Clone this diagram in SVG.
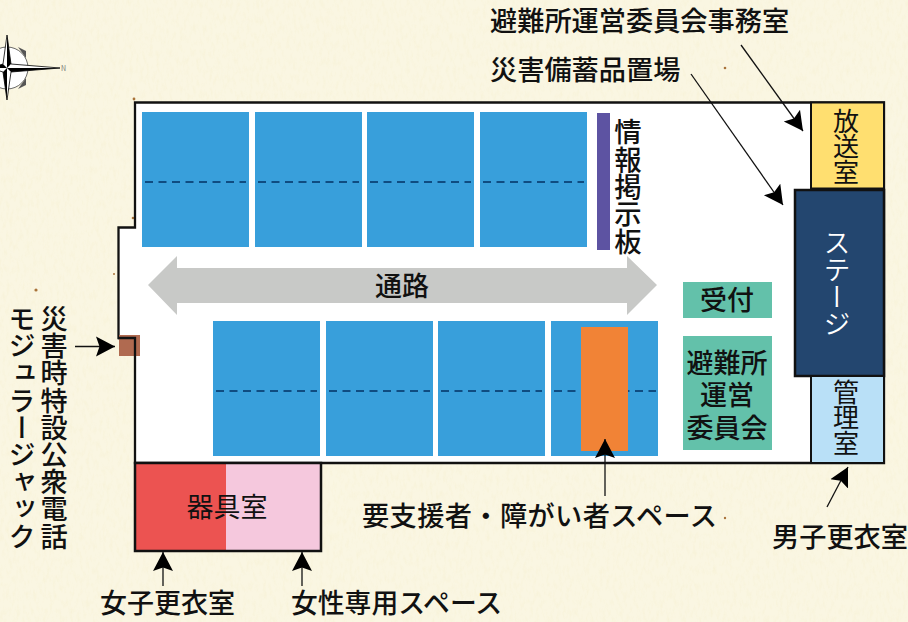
<svg xmlns="http://www.w3.org/2000/svg" width="908" height="622" viewBox="0 0 908 622">
<style>
text{font-family:"Noto Sans CJK JP","Noto Sans",sans-serif;fill:#111}
.lb{font-size:27.2px;font-weight:500}
.rm{font-size:27px;font-weight:500;text-anchor:middle}
.v{writing-mode:vertical-rl}
.thin{font-size:26px;font-weight:400;letter-spacing:-.6px}
.bl{fill:#389fdb}
.ds{stroke:#0f4c81;stroke-width:2;stroke-dasharray:8 5.500;fill:none}
.ln{stroke:#111;stroke-width:1.300;fill:none}
.tg{fill:#63c1aa}
.sp{fill:#a9733a}
</style>
<defs>
<marker id="ah" viewBox="0 0 20 22" refX="19" refY="11" markerWidth="20" markerHeight="22" markerUnits="userSpaceOnUse" orient="auto"><path d="M19 11L0 1L3.500 11L0 21Z" fill="#000"/></marker>
<filter id="paper" x="0" y="0" width="100%" height="100%"><feTurbulence type="fractalNoise" baseFrequency="0.3 0.12" numOctaves="4" seed="7"/><feColorMatrix values="0 0 0 0 0.9 0 0 0 0 0.84 0 0 0 0 0.58 1.800 0 0 0 -0.8"/></filter>
</defs>
<rect width="908" height="622" fill="#faf6e2"/>
<rect width="908" height="622" filter="url(#paper)" opacity=".4"/>
<g id="specks"><circle class="sp" cx="725" cy="68" r="1.300"/><circle class="sp" cx="36" cy="290" r="1.600"/><circle class="sp" cx="114" cy="274" r="1"/><circle class="sp" cx="134" cy="99" r="1.400"/><circle class="sp" cx="133" cy="218" r="1.300"/><circle class="sp" cx="725" cy="518" r="1.200"/></g>
<g id="compass">
<path d="M18 47L26 51L26 58ZM18 89L26 85L26 78Z" fill="#555"/>
<circle cx="7" cy="68" r="21" fill="#fff" stroke="#444" stroke-width=".8"/>
<path d="M7 35L11 64L60 68L11 72L7 100L3 72L-10 68L3 64Z" fill="#fff" stroke="#000" stroke-width=".8"/>
<path d="M7 35L7 68L11 64ZM7 100L7 68L3 72ZM60 68L7 68L11 72ZM-10 68L7 68L3 64Z" fill="#000"/>
<text x="61" y="71" style="font-size:7px;fill:#777">N</text>
</g>
<g id="floor">
<path d="M135 102.500H884V463H135V338H118.500V227.500H135Z" fill="#fff" stroke="#111" stroke-width="2.300"/>
</g>
<g id="mats-top">
<rect class="bl" x="142" y="112" width="107" height="135"/><rect class="bl" x="255" y="112" width="107" height="135"/><rect class="bl" x="367" y="112" width="107" height="135"/><rect class="bl" x="480" y="112" width="107" height="135"/>
<path class="ds" d="M145 182H246M258 182H359M370 182H471M483 182H584"/>
</g>
<g id="mats-bottom">
<rect class="bl" x="213" y="321" width="107" height="135"/><rect class="bl" x="326" y="321" width="107" height="135"/><rect class="bl" x="438" y="321" width="107" height="135"/><rect class="bl" x="551" y="321" width="107" height="135"/>
<path class="ds" d="M216 391H317M329 391H430M441 391H542M554 391H656"/>
</g>
<g id="board"><rect x="597" y="113" width="13" height="137" fill="#5d53a2"/>
<text class="v" x="628" y="118" style="font-size:27.400px;font-weight:500">情報掲示板</text></g>
<g id="passage"><path d="M148 285L177 256V268H627V256L657 285L627 315V303H177V315Z" fill="#c8c9c7"/>
<text class="rm" x="402" y="296">通路</text></g>
<g id="reception"><rect class="tg" x="683" y="282" width="89" height="36"/><text class="rm" x="727" y="310">受付</text></g>
<g id="committee"><rect class="tg" x="683" y="336" width="89" height="114"/>
<text class="rm"><tspan x="727" y="373">避難所</tspan><tspan x="727" y="405">運営</tspan><tspan x="727" y="438">委員会</tspan></text></g>
<g id="support"><rect x="581" y="327" width="47" height="124" fill="#f18336"/></g>
<g id="broadcast"><rect x="811" y="102.500" width="73" height="86" fill="#ffdf70" stroke="#111" stroke-width="2"/>
<text class="thin v" x="846" y="108">放送室</text></g>
<g id="stage"><rect x="795" y="190" width="89" height="186" fill="#23466f" stroke="#111" stroke-width="2.500"/>
<text class="v" x="837" y="229" style="font-size:27px;fill:#fff;font-weight:350">ステージ</text></g>
<g id="office"><rect x="811" y="376" width="73" height="87" fill="#b9e0f7" stroke="#111" stroke-width="2"/>
<text class="thin v" x="846" y="379">管理室</text></g>
<g id="storage"><rect x="135" y="463" width="92" height="88" fill="#ec5351"/><rect x="226" y="463" width="95" height="88" fill="#f5c8dd"/>
<rect x="135" y="463" width="186" height="88" fill="none" stroke="#111" stroke-width="2.500"/>
<text class="rm" x="227" y="517" style="font-weight:400">器具室</text></g>
<g id="jack"><rect x="119" y="335" width="21" height="21" fill="#b06a50"/><path d="M118 338H135V356" fill="none" stroke="#111" stroke-width="2.300"/></g>
<g id="connectors">
<path class="ln" d="M741 45L803 131" marker-end="url(#ah)"/>
<path class="ln" d="M691 74L783 205" marker-end="url(#ah)"/>
<path class="ln" d="M75 346.500H115" marker-end="url(#ah)"/>
<path class="ln" d="M605 496V439" marker-end="url(#ah)"/>
<path class="ln" d="M827 507L848 467" marker-end="url(#ah)"/>
<path class="ln" d="M163 586V552" marker-end="url(#ah)"/>
<path class="ln" d="M302 586V552" marker-end="url(#ah)"/>
</g>
<g id="labels">
<text class="lb" x="490" y="31">避難所運営委員会事務室</text>
<text class="lb" x="490" y="80">災害備蓄品置場</text>
<text class="lb v" x="54" y="305">災害時特設公衆電話</text>
<text class="lb v" x="22" y="305">モジュラージャック</text>
<text class="lb" x="362" y="526" style="letter-spacing:.4px">要支援者・障がい者スペース</text>
<text class="lb" x="772" y="547">男子更衣室</text>
<text class="lb" x="100" y="613" style="font-size:27px">女子更衣室</text>
<text class="lb" x="291" y="613" style="font-size:26.800px">女性専用スペース</text>
</g>
</svg>
